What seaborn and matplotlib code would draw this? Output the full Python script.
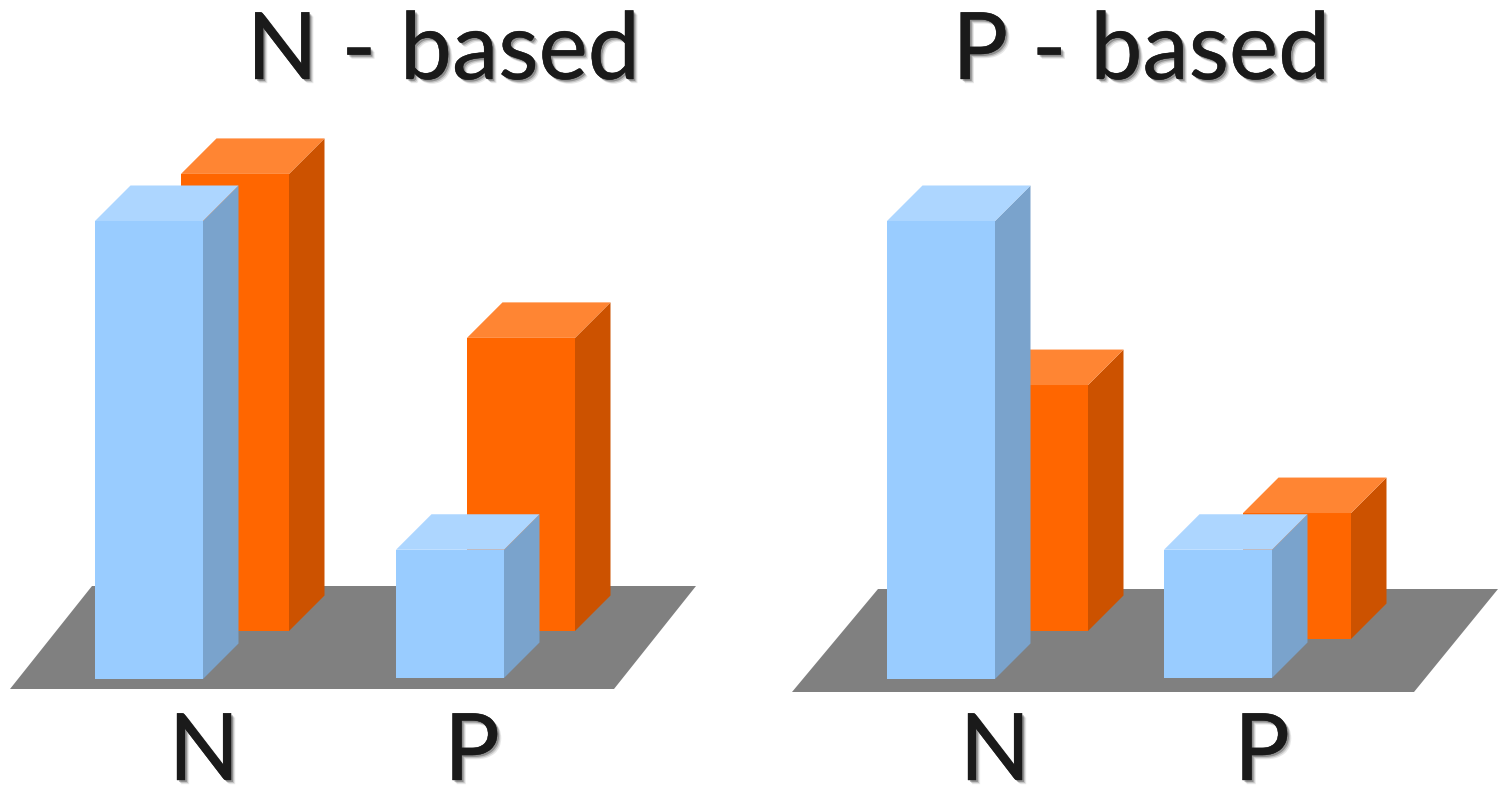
import matplotlib
matplotlib.use('Agg')
import matplotlib.pyplot as plt
import matplotlib.patheffects as pe
import seaborn as sns

# Chart data (blue N bar = 100)
categories = ['N', 'P']
panel_titles = ['N - based', 'P - based']
blue_values = [[100, 28.0], [100, 28.0]]
orange_values = [[99.8, 64], [53.7, 27.5]]

# Layout, all in pixels of the 1499x786 image
W, H = 1499, 786
PX_PER_UNIT = 4.58
DEPTH = 35.5
BAR_W = 108
blue_left = [[95, 396], [887, 1164]]
orange_left = [[181, 467], [980, 1243]]
blue_base = [[679, 678], [679, 678]]
orange_base = [[631, 631], [631, 639]]
floors = [[(10, 689), (614, 689), (696, 586), (92, 586)],
          [(792, 692), (1414, 692), (1498, 589), (878, 589)]]
title_x = [443, 1141]
label_x = [[204, 472], [995, 1262]]

BLUE = ('#99CCFF', '#7AA3CC', '#ADD6FF')
ORANGE = ('#FF6600', '#CC5200', '#FF8533')

sns.set_theme(style='white')
plt.rcParams['font.family'] = ['Lato', 'DejaVu Sans']

fig = plt.figure(figsize=(W / 100, H / 100), dpi=100)
ax = fig.add_axes([0, 0, 1, 1])

uy = 1 / PX_PER_UNIT  # one pixel in value units


def draw_series(ax, lefts, values, bases, colors):
    # one bar at a time so each can sit on its own baseline
    for left, value, base in zip(lefts, values, bases):
        n_before = len(ax.patches)
        sns.barplot(x=[left + BAR_W / 2], y=[value], native_scale=True, width=1,
                    color=colors[0], saturation=1, linewidth=0,
                    bottom=(H - base) * uy, ax=ax)
        bar = ax.patches[n_before]
        bar.set_x(left)
        bar.set_width(BAR_W)
        bar.set_zorder(3)
        x0, x1 = left, left + BAR_W
        y0, y1 = bar.get_y(), bar.get_y() + bar.get_height()
        d = DEPTH * uy
        ax.fill([x1, x1 + DEPTH, x1 + DEPTH, x1], [y0, y0 + d, y1 + d, y1],
                color=colors[1], lw=0, zorder=3)
        ax.fill([x0, x1, x1 + DEPTH, x0 + DEPTH], [y1, y1, y1 + d, y1 + d],
                color=colors[2], lw=0, zorder=3)


def shadow():
    # soft grey drop shadow, down and to the right
    return [pe.SimplePatchShadow(offset=(3.0, -3.0), shadow_rgbFace='k', alpha=0.10),
            pe.SimplePatchShadow(offset=(2.2, -2.2), shadow_rgbFace='k', alpha=0.18),
            pe.SimplePatchShadow(offset=(1.4, -1.4), shadow_rgbFace='k', alpha=0.30),
            pe.Stroke(linewidth=0.3, foreground='k'),
            pe.Normal()]


for i in range(2):
    xs, ys = zip(*floors[i])
    ax.fill(xs, [(H - y) * uy for y in ys], color='#808080', lw=0, zorder=1)
    draw_series(ax, orange_left[i], orange_values[i], orange_base[i], ORANGE)
    draw_series(ax, blue_left[i], blue_values[i], blue_base[i], BLUE)
    ax.text(title_x[i], (H - 79) * uy, panel_titles[i], fontsize=67, color='k',
            ha='center', va='baseline', path_effects=shadow(), zorder=5)
    for x, cat in zip(label_x[i], categories):
        ax.text(x, (H - 780) * uy, cat, fontsize=67, color='k',
                ha='center', va='baseline', path_effects=shadow(), zorder=5)

ax.set_xlim(0, W)
ax.set_ylim(0, H * uy)
ax.axis('off')

fig.savefig('out.png', dpi=100, facecolor='white')
